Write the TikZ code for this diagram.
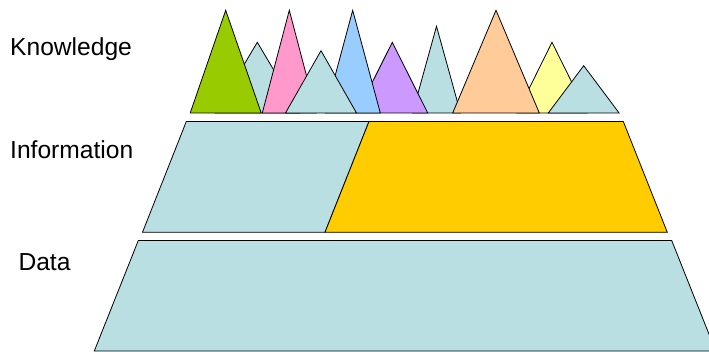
\documentclass[tikz,border=0pt]{standalone}
\usepackage{fontspec}
\setmainfont{Liberation Sans}
\definecolor{lb}{HTML}{B9DFE2}
\definecolor{kgreen}{HTML}{99CC00}
\definecolor{kpink}{HTML}{FF99CC}
\definecolor{kblue}{HTML}{99CCFF}
\definecolor{kpurple}{HTML}{CC99FF}
\definecolor{korange}{HTML}{FFCC99}
\definecolor{kyellow}{HTML}{FFFF99}
\definecolor{kgold}{HTML}{FFCC00}
\tikzset{
  layerbox/.style={draw=black, line width=0.8pt, line join=miter},
  lvltext/.style={font=\fontsize{24.6}{27}\selectfont, anchor=base west, inner sep=0pt},
}
\newcommand{\ktri}[4]{\filldraw[layerbox, fill=#1] (#2-#4,113) -- (#2,#3) -- (#2+#4,113) -- cycle;}
\begin{document}
\begin{tikzpicture}[x=1pt,y=-1pt]
\useasboundingbox (0,0) rectangle (709,352);
\fill[white] (0,0) rectangle (709,352);
% labels
\node[lvltext] (know) at (10,55.7) {Knowledge};
\node[lvltext] (info) at (10,158.3) {Information};
\node[lvltext] (data) at (18.3,270.7) {Data};
% data layer
\begin{scope}
\clip (0,0) rectangle (709,352);
\filldraw[layerbox, fill=lb] (138.3,240.5) -- (671.7,240.5) -- (715.7,351) -- (94.3,351) -- cycle;
\end{scope}
% information layer
\filldraw[layerbox, fill=lb] (186.3,121.5) -- (369,121.5) -- (325,232.3) -- (142.5,232.3) -- cycle;
\filldraw[layerbox, fill=kgold] (369,121.5) -- (623.3,121.5) -- (667.3,232.3) -- (325,232.3) -- cycle;
% knowledge triangles (back to front)
\ktri{lb}{257.3}{42.3}{42}
\ktri{kgreen}{225.7}{10.3}{35.5}
\ktri{kpink}{289.3}{10.3}{27}
\ktri{lb}{436.5}{26.3}{24}
\ktri{kpurple}{392.3}{42.3}{35.4}
\ktri{kblue}{352.7}{10.3}{27.6}
\ktri{lb}{321}{50.7}{35.5}
\ktri{kyellow}{552}{42.3}{35}
\ktri{korange}{496}{10.3}{43.3}
\ktri{lb}{583.7}{65.7}{35.4}
\end{tikzpicture}
\end{document}
